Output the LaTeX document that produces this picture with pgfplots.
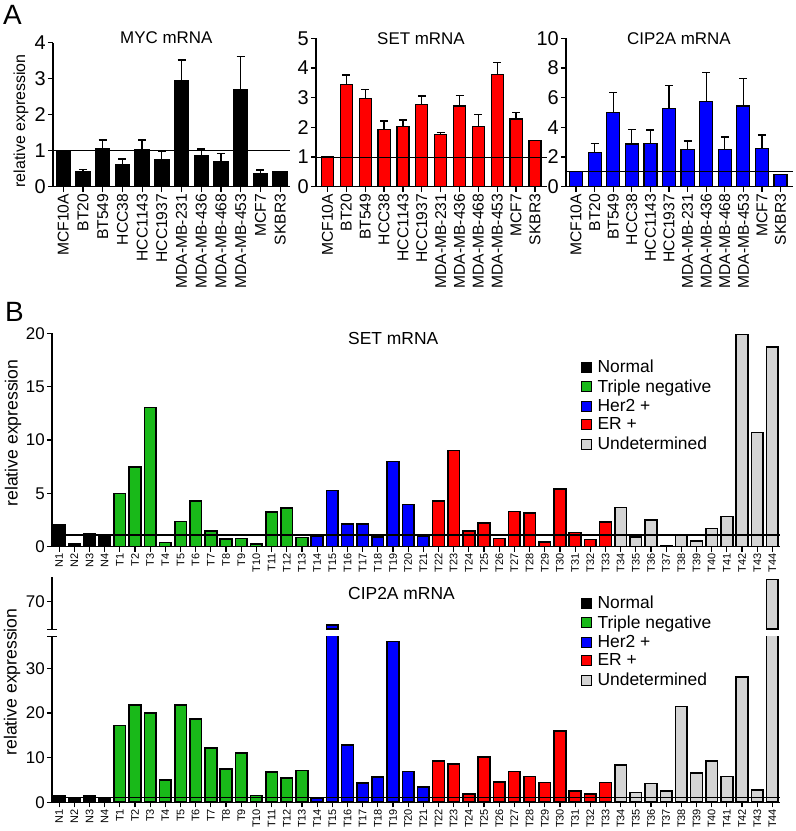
\documentclass[border=0pt]{standalone}
\usepackage{pgfplots}
\pgfplotsset{compat=1.18}
\usepackage{pgfplotstable}
\usepackage{fontspec}
\setmainfont{Liberation Sans}
\definecolor{tnGreen}{RGB}{25,185,25}
\definecolor{erRed}{RGB}{255,0,0}
\definecolor{herBlue}{RGB}{0,0,255}
\definecolor{undGray}{RGB}{212,212,212}

% Panel A data: x, mean, upper error
\pgfplotstableread{
x y e
0 1.00 0
1 0.42 0.06
2 1.06 0.24
3 0.60 0.17
4 1.02 0.28
5 0.74 0.25
6 2.94 0.58
7 0.85 0.20
8 0.69 0.24
9 2.71 0.90
10 0.35 0.11
11 0.41 0
}\mycA
\pgfplotstableread{
x y e
0 1.00 0
1 3.43 0.33
2 2.98 0.30
3 1.94 0.27
4 2.02 0.23
5 2.78 0.28
6 1.76 0.07
7 2.72 0.35
8 2.02 0.42
9 3.79 0.40
10 2.28 0.23
11 1.55 0
}\setA
\pgfplotstableread{
x y e
0 1.01 0
1 2.29 0.63
2 4.99 1.37
3 2.88 0.99
4 2.92 0.90
5 5.28 1.53
6 2.52 0.56
7 5.73 1.96
8 2.52 0.83
9 5.44 1.86
10 2.58 0.90
11 0.83 0
}\cipA

% Panel B, SET mRNA
\pgfplotstableread{
x y
0 2.03
1 0.30
2 1.25
3 1.10
}\setNorm
\pgfplotstableread{
x y
4 5.00
5 7.45
6 13.06
7 0.38
8 2.35
9 4.30
10 1.47
11 0.70
12 0.75
13 0.25
14 3.25
15 3.63
16 0.88
}\setTN
\pgfplotstableread{
x y
17 1.03
18 5.28
19 2.10
20 2.10
21 0.90
22 7.97
23 3.94
24 1.03
}\setHer
\pgfplotstableread{
x y
25 4.28
26 9.00
27 1.47
28 2.22
29 0.75
30 3.28
31 3.16
32 0.44
33 5.40
34 1.34
35 0.69
36 2.34
}\setER
\pgfplotstableread{
x y
37 3.66
38 0.90
39 2.50
40 0.12
41 1.16
42 0.53
43 1.69
44 2.84
45 19.90
46 10.70
47 18.70
}\setUnd

% Panel B, CIP2A mRNA
\pgfplotstableread{
x y
0 1.40
1 0.90
2 1.40
3 0.75
}\cipNorm
\pgfplotstableread{
x y
4 17.2
5 21.8
6 20.0
7 5.0
8 21.8
9 18.7
10 12.2
11 7.5
12 11.0
13 1.5
14 6.8
15 5.45
16 7.1
}\cipTN
\pgfplotstableread{
x y
17 1.0
18 64.8
19 12.8
20 4.3
21 5.6
22 36.0
23 6.9
24 3.4
}\cipHer
\pgfplotstableread{
x y
25 9.25
26 8.6
27 1.9
28 10.1
29 4.5
30 6.9
31 5.8
32 4.4
33 15.9
34 2.5
35 1.9
36 4.4
}\cipER
\pgfplotstableread{
x y
37 8.3
38 2.2
39 4.2
40 2.5
41 21.4
42 6.6
43 9.25
44 5.8
45 28.1
46 2.7
47 75.0
}\cipUnd

\pgfplotsset{
  base/.style={
    scale only axis,
    axis x line*=bottom, axis y line*=left,
    axis line style={line width=1.3bp, -},
    tick style={line width=1.2bp, black},
    tick align=outside, major tick length=5bp,
    /pgf/number format/assume math mode=true,
    ymin=0,
  },
  panelA/.style={
    base, anchor=south west, height=148.4bp,
    xtick={0,...,11},
    xticklabels={MCF10A,BT20,BT549,HCC38,HCC1143,HCC1937,MDA-MB-231,MDA-MB-436,MDA-MB-468,MDA-MB-453,MCF7,SKBR3},
    xticklabel style={rotate=90, anchor=east, font=\fontsize{15.7}{16}\selectfont, inner sep=2bp},
    yticklabel style={font=\fontsize{20}{20}\selectfont, inner sep=2bp},
  },
  panelB/.style={
    base, anchor=south west, width=728bp,
    xmin=-0.47, xmax=47.5,
    xtick={0,...,47},
    xticklabels={N1,N2,N3,N4,T1,T2,T3,T4,T5,T6,T7,T8,T9,T10,T11,T12,T13,T14,T15,T16,T17,T18,T19,T20,T21,T22,T23,T24,T25,T26,T27,T28,T29,T30,T31,T32,T33,T34,T35,T36,T37,T38,T39,T40,T41,T42,T43,T44},
    xticklabel style={rotate=90, anchor=east, font=\fontsize{11}{11}\selectfont, inner sep=1.5bp},
    yticklabel style={font=\fontsize{17}{17}\selectfont, inner sep=2bp},
    legend cell align=left,
    legend image code/.code={\draw[##1, line width=0.6bp] (0bp,-5bp) rectangle (10bp,5bp);},
  },
  legB/.style={legend style={draw=none, fill=none, at={(#1)}, anchor=north west,
    font=\fontsize{17.5}{17.5}\selectfont, row sep=2.3bp, inner sep=0pt, nodes={inner sep=1.5bp},
    /tikz/every odd column/.append style={column sep=4bp}}},
  barA/.style={ybar, bar shift=0pt, bar width=#1, draw=black, line width=1.2bp,
    error bars/y dir=plus, error bars/y explicit,
    error bars/error bar style={line width=1.3bp, black},
    error bars/error mark options={rotate=90, mark size=4bp, line width=1.3bp, black}},
  barB/.style={ybar, bar shift=0pt, bar width=0.77, draw=black, line width=1.6bp, fill=#1},
}

\begin{document}
\begin{tikzpicture}
\useasboundingbox (0,0) rectangle (796bp,831bp);

% ---------- Panel A: MYC ----------
\begin{axis}[panelA, at={(53bp,644.3bp)}, width=237bp, height=144bp,
  xmin=-0.52, xmax=11.5, ymax=4, ytick={0,1,2,3,4}]
  \addplot[barA=0.72, fill=black] table[x=x, y=y, y error=e] {\mycA};
  \addplot[black, line width=1bp] coordinates {(-0.52,1) (11.5,1)};
\end{axis}

% ---------- Panel A: SET ----------
\begin{axis}[panelA, at={(316bp,644.3bp)}, width=231bp,
  xmin=-0.61, xmax=11.64, ymax=5, ytick={0,1,2,3,4,5}]
  \addplot[barA=0.64, fill=erRed] table[x=x, y=y, y error=e] {\setA};
  \addplot[black, line width=1bp] coordinates {(-0.61,1) (11.64,1)};
\end{axis}

% ---------- Panel A: CIP2A ----------
\begin{axis}[panelA, at={(566bp,644.3bp)}, width=227bp,
  xmin=-0.54, xmax=11.67, ymax=10, ytick={0,2,4,6,8,10}]
  \addplot[barA=0.7, fill=herBlue] table[x=x, y=y, y error=e] {\cipA};
  \addplot[black, line width=1bp] coordinates {(-0.54,1) (11.67,1)};
\end{axis}

% ---------- Panel B: SET ----------
\begin{axis}[panelB, at={(52bp,284.3bp)}, height=213.4bp,
  ymax=20, ytick={0,5,10,15,20}, legB={0.727,0.882}]
  \addplot[barB=black] table[x=x, y=y] {\setNorm};
  \addlegendentry{Normal}
  \addplot[barB=tnGreen] table[x=x, y=y] {\setTN};
  \addlegendentry{Triple negative}
  \addplot[barB=herBlue] table[x=x, y=y] {\setHer};
  \addlegendentry{Her2 +}
  \addplot[barB=erRed] table[x=x, y=y] {\setER};
  \addlegendentry{ER +}
  \addplot[barB=undGray] table[x=x, y=y] {\setUnd};
  \addlegendentry{Undetermined}
  \addplot[black, line width=1.2bp, forget plot] coordinates {(-0.47,1.1) (47.5,1.1)};
\end{axis}

% ---------- Panel B: CIP2A (lower part) ----------
\begin{axis}[panelB, at={(52bp,28.7bp)}, height=165.6bp,
  ymax=37.07, ytick={0,10,20,30}, legB={0.727,1.255}]
  \addplot[barB=black] table[x=x, y=y] {\cipNorm};
  \addlegendentry{Normal}
  \addplot[barB=tnGreen] table[x=x, y=y] {\cipTN};
  \addlegendentry{Triple negative}
  \addplot[barB=herBlue] table[x=x, y=y] {\cipHer};
  \addlegendentry{Her2 +}
  \addplot[barB=erRed] table[x=x, y=y] {\cipER};
  \addlegendentry{ER +}
  \addplot[barB=undGray] table[x=x, y=y] {\cipUnd};
  \addlegendentry{Undetermined}
  \addplot[black, line width=1.2bp, forget plot] coordinates {(-0.47,1) (47.5,1)};
\end{axis}

% ---------- Panel B: CIP2A (upper part, after the break) ----------
\begin{axis}[base, anchor=south west, at={(52bp,201.7bp)}, width=728bp, height=52bp,
  xmin=-0.47, xmax=47.5, ymin=63.8, ymax=75.45, ytick={70},
  axis x line=none, axis y line*=left,
  yticklabel style={font=\fontsize{17}{17}\selectfont, inner sep=2bp}]
  \addplot[barB=herBlue, restrict y to domain=60:100] table[x=x, y=y] {\cipHer};
  \addplot[barB=undGray, restrict y to domain=60:100] table[x=x, y=y] {\cipUnd};
\end{axis}
% break marks
\draw[line width=1.3bp] (47bp,201.7bp) -- (57bp,201.7bp);
\draw[line width=1.3bp] (47bp,194.3bp) -- (57bp,194.3bp);

% ---------- Titles and labels ----------
\node[anchor=base west, font=\fontsize{28}{28}\selectfont, inner sep=0pt] at (3bp,806bp) {A};
\node[anchor=base west, font=\fontsize{28}{28}\selectfont, inner sep=0pt] at (5bp,509bp) {B};
\node[anchor=base west, font=\fontsize{17}{17}\selectfont, inner sep=0pt] at (120bp,787.7bp) {MYC mRNA};
\node[anchor=base west, font=\fontsize{17}{17}\selectfont, inner sep=0pt] at (377bp,786bp) {SET mRNA};
\node[anchor=base west, font=\fontsize{17}{17}\selectfont, inner sep=0pt] at (627bp,786bp) {CIP2A mRNA};
\node[anchor=base west, font=\fontsize{17.5}{17.5}\selectfont, inner sep=0pt] at (348bp,486bp) {SET mRNA};
\node[anchor=base west, font=\fontsize{17.5}{17.5}\selectfont, inner sep=0pt] at (348bp,231bp) {CIP2A mRNA};
\node[rotate=90, font=\fontsize{16}{16}\selectfont, inner sep=0pt] at (21bp,710bp) {relative expression};
\node[rotate=90, font=\fontsize{17.7}{17.7}\selectfont, inner sep=0pt] at (13bp,398bp) {relative expression};
\node[rotate=90, font=\fontsize{17.7}{17.7}\selectfont, inner sep=0pt] at (12bp,149bp) {relative expression};
\end{tikzpicture}
\end{document}
